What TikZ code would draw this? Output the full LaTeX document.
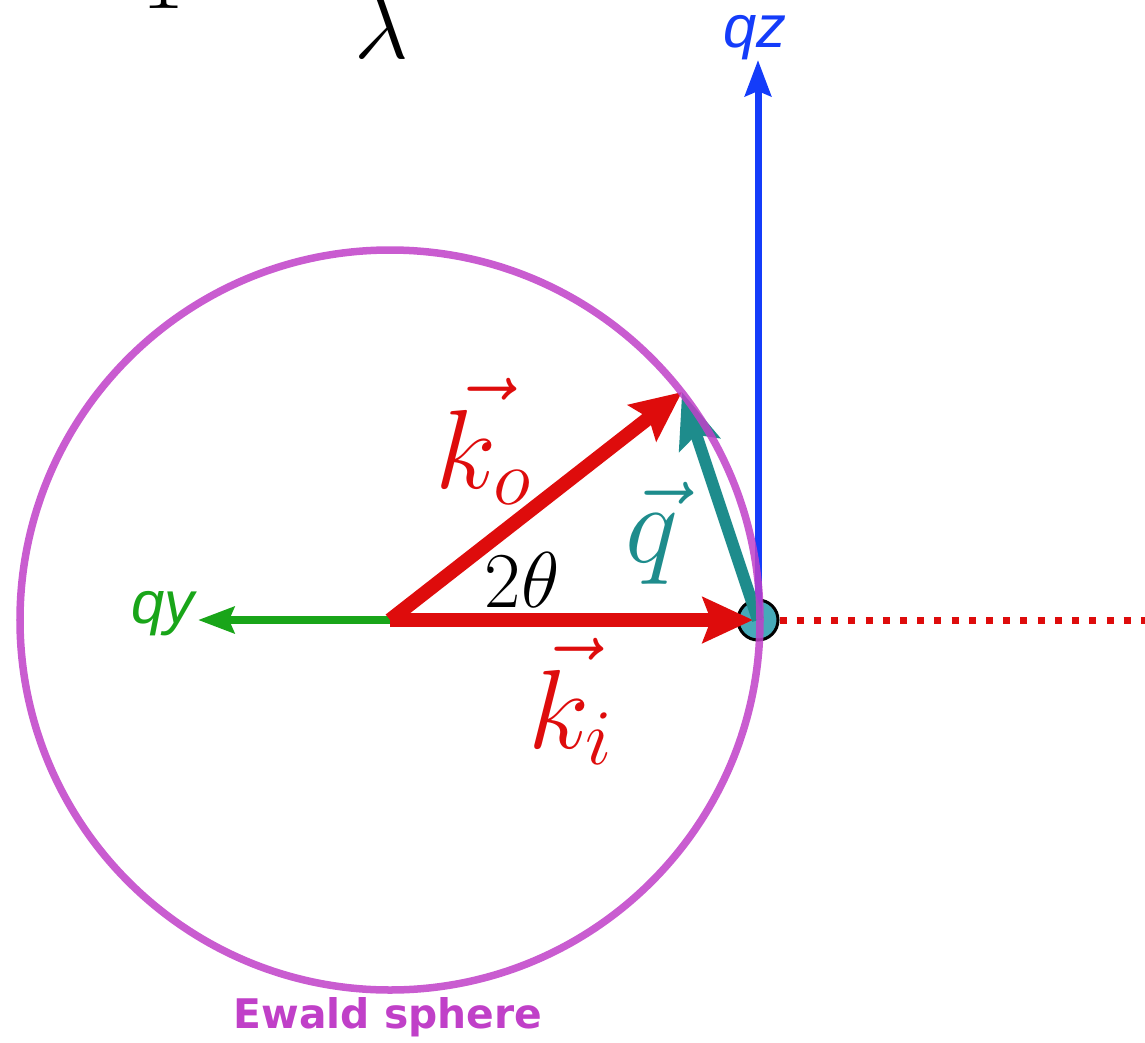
\RequirePackage{fix-cm}
\documentclass[tikz,border=0pt]{standalone}
\usepackage{fontspec}
\setsansfont{Liberation Sans}
\newfontfamily\ewaldfont{DejaVu Sans}
\usetikzlibrary{arrows.meta}
\definecolor{kred}{RGB}{222,12,12}
\definecolor{qteal}{RGB}{30,140,140}
\definecolor{qblue}{RGB}{20,60,250}
\definecolor{qgreen}{RGB}{25,165,25}
\definecolor{ewald}{RGB}{192,64,200}
\definecolor{origfill}{RGB}{70,170,185}

\begin{document}
\begin{tikzpicture}[x=0.01cm, y=-0.01cm,
    wave/.style={kred, line width=0.14cm, -{Stealth[length=0.5cm, width=0.45cm, inset=0.08cm]}},
    scatter/.style={qteal, line width=0.12cm, -{Stealth[length=0.55cm, width=0.42cm, inset=0.1cm]}},
    qaxis/.style={-{Stealth[length=0.36cm, width=0.26cm, inset=0.05cm]}},
    sphere/.style={ewald, line width=0.075cm, draw opacity=0.85},
    beam/.style={kred, line width=0.07cm, dash pattern=on 0.07cm off 0.102cm},
    biglabel/.style={inner sep=0pt, anchor=base, font=\fontsize{32}{36}\selectfont},
    axislabel/.style={inner sep=0pt, anchor=base, font=\fontsize{17}{20}\selectfont\sffamily\itshape}]
  \useasboundingbox (0,0) rectangle (1145,1042);
  % O = centre of the sphere, P = origin of reciprocal space
  \coordinate (O) at (390,620);
  \coordinate (P) at (758,620);
  \coordinate (Ki) at (753,620);
  \coordinate (Ko) at (682,392);
  \coordinate (Qz) at (758,60);
  \coordinate (Qy) at (198,620);
  \coordinate (Far) at (1145,620);

  \node[circle, draw=black, fill=origfill, line width=0.03cm, minimum size=0.4cm, inner sep=0pt] (orig) at (P) {};
  \draw[beam] (orig.east) -- (Far);
  \draw[qaxis, qblue, line width=0.07cm] (P) -- (Qz);
  \draw[qaxis, qgreen, line width=0.08cm] (O) -- (Qy);
  \draw[wave] (O) -- (Ki);
  \draw[wave] (O) -- (Ko);
  \draw[scatter] (P) -- (Ko);
  \draw[sphere] (O) circle[radius=370];

  \node[biglabel, kred] (ko) at (484,488) {$\vec{k_o}$};
  \node[biglabel, kred] (ki) at (571,748) {$\vec{k_i}$};
  \node[biglabel, qteal] (q) at (652,562) {$\vec{q}$};
  \node[inner sep=0pt, anchor=base, font=\fontsize{22.5}{26}\selectfont] (angle) at (522,607) {$2\theta$};
  \node[axislabel, qgreen] (qy) at (163,623) {qy};
  \node[axislabel, qblue] (qz) at (755,47) {qz};
  \node[ewald, inner sep=0pt, anchor=base, font=\ewaldfont\bfseries\fontsize{11.6}{14}\selectfont] (ew) at (388,1028) {Ewald sphere};
  % cut off at the top edge
  \node[inner sep=0pt, anchor=base, font=\fontsize{27}{32}\selectfont] (one) at (163,8) {$1$};
  \node[inner sep=0pt, anchor=base, font=\fontsize{27}{32}\selectfont] (lam) at (382,58) {$\lambda$};
\end{tikzpicture}
\end{document}
